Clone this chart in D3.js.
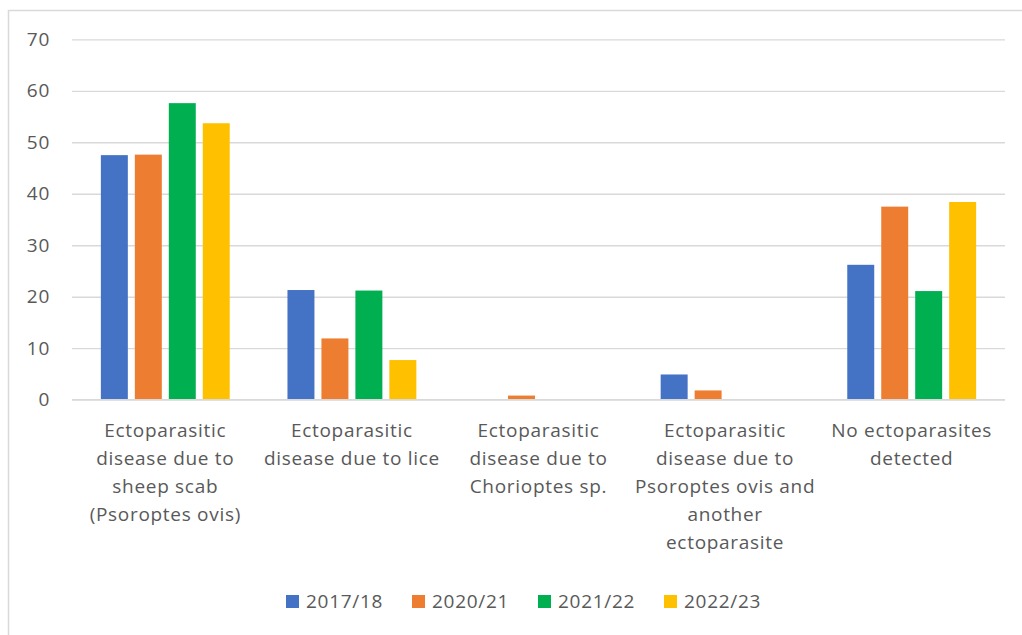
<!DOCTYPE html>
<html>
<head>
<meta charset="utf-8">
<script src="https://cdn.jsdelivr.net/npm/d3@7"></script>
<style>
  html, body { margin: 0; padding: 0; background: #fff; }
  svg { display: block; }
  text { font-family: "Open Sans", "Liberation Sans", sans-serif; fill: #595959; letter-spacing: 0.7px; }
</style>
</head>
<body>
<svg id="chart" width="1022" height="635"></svg>
<script>
const categories = [
  "Ectoparasitic disease due to sheep scab (Psoroptes ovis)",
  "Ectoparasitic disease due to lice",
  "Ectoparasitic disease due to Chorioptes sp.",
  "Ectoparasitic disease due to Psoroptes ovis and another ectoparasite",
  "No ectoparasites detected"
];
const categoryLines = [
  ["Ectoparasitic", "disease due to", "sheep scab", "(Psoroptes ovis)"],
  ["Ectoparasitic", "disease due to lice"],
  ["Ectoparasitic", "disease due to", "Chorioptes sp."],
  ["Ectoparasitic", "disease due to", "Psoroptes ovis and", "another", "ectoparasite"],
  ["No ectoparasites", "detected"]
];
const seriesNames = ["2017/18", "2020/21", "2021/22", "2022/23"];
const s2017 = [47.5, 21.3, 0, 4.9, 26.2];
const s2020 = [47.6, 11.9, 0.8, 1.8, 37.5];
const s2021 = [57.6, 21.2, 0, 0, 21.1];
const s2022 = [53.7, 7.7, 0, 0, 38.4];
const seriesValues = [s2017, s2020, s2021, s2022];
const colors = ["#4472C4", "#ED7D31", "#00B050", "#FFC000"];
const yTicks = [0, 10, 20, 30, 40, 50, 60, 70];

(function () {
const svg = d3.select("#chart");
const FS = 19;

// chart border
svg.append("rect")
  .attr("x", 8.5).attr("y", 10.5)
  .attr("width", 1040).attr("height", 660)
  .attr("fill", "none").attr("stroke", "#d9d9d9").attr("stroke-width", 1.5);

const pLeft = 72, pRight = 1005, pTop = 39.3, pBottom = 399.7;

const y = d3.scaleLinear().domain([0, 70]).range([pBottom, pTop]);
const x0 = d3.scaleBand().domain(d3.range(categories.length)).range([pLeft, pRight]).padding(0);
const x1 = d3.scaleBand().domain(d3.range(seriesNames.length))
  .range([0, x0.bandwidth()]).paddingInner(7 / 34).paddingOuter(0.85);

// gridlines
const yAxis = d3.axisLeft(y).tickValues(yTicks).tickSize(-(pRight - pLeft)).tickPadding(22).tickFormat(d3.format("d"));
const gy = svg.append("g").attr("transform", `translate(${pLeft},0)`).call(yAxis);
gy.select(".domain").remove();
gy.selectAll(".tick line").attr("stroke", "#d9d9d9").attr("stroke-width", 1.3);
gy.selectAll(".tick text").attr("font-size", FS).attr("fill", "#595959")
  .style("font-family", "'Open Sans', sans-serif");

// bars
const groups = svg.append("g").selectAll("g")
  .data(categories).join("g")
  .attr("transform", (d, i) => `translate(${x0(i)},0)`);

groups.selectAll("rect")
  .data((d, i) => seriesValues.map((s, k) => ({ k, v: s[i] })))
  .join("rect")
  .attr("x", d => x1(d.k))
  .attr("width", x1.bandwidth())
  .attr("y", d => y(d.v))
  .attr("height", d => pBottom - y(d.v))
  .attr("fill", d => colors[d.k]);

// redraw zero line above bars
svg.append("line")
  .attr("x1", pLeft).attr("x2", pRight).attr("y1", y(0)).attr("y2", y(0))
  .attr("stroke", "#d9d9d9").attr("stroke-width", 1.3);

// category labels
const lab = svg.append("g");
categoryLines.forEach((lines, i) => {
  const cx = x0(i) + x0.bandwidth() / 2;
  const t = lab.append("text")
    .attr("text-anchor", "middle")
    .attr("font-size", FS)
    .attr("x", cx)
    .attr("y", 437);
  lines.forEach((ln, j) => {
    t.append("tspan").attr("x", cx).attr("dy", j === 0 ? 0 : 28).text(ln);
  });
});

// legend
const legendX = [286, 412, 538, 664];
const lg = svg.append("g");
seriesNames.forEach((n, k) => {
  lg.append("rect").attr("x", legendX[k]).attr("y", 595).attr("width", 13).attr("height", 13).attr("fill", colors[k]);
  lg.append("text").attr("x", legendX[k] + 20).attr("y", 608).attr("font-size", FS).text(n);
});
})();
</script>
</body>
</html>
